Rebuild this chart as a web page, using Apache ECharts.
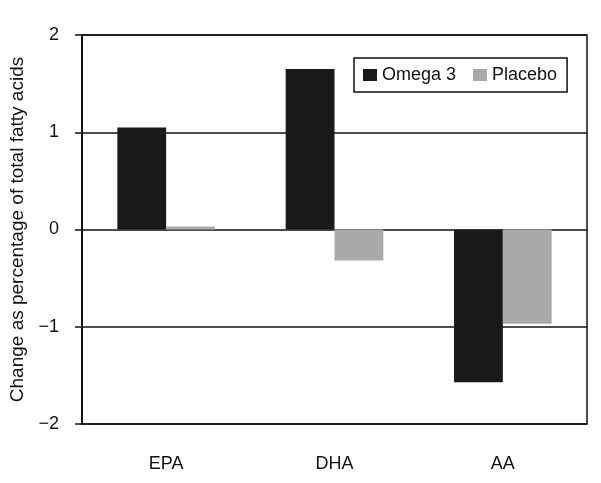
<!DOCTYPE html>
<html><head><meta charset="utf-8">
<script src="https://cdn.jsdelivr.net/npm/echarts@6/dist/echarts.min.js"></script>
<style>html,body{margin:0;padding:0;background:#fff}#c{width:601px;height:483px}</style>
</head><body><div id="c"></div>
<script>
const categories = ['EPA', 'DHA', 'AA'];
const omega3 = [1.05, 1.65, -1.57];
const placebo = [0.03, -0.32, -0.97];
const yTicks = [-2, -1, 0, 1, 2];

const FONT = 'Liberation Sans, Arial, sans-serif';
const chart = echarts.init(document.getElementById('c'));
chart.setOption({
  animation: false,
  backgroundColor: '#fff',
  textStyle: { fontFamily: FONT },
  grid: { left: 82, right: 14, top: 35, bottom: 59, show: true, borderColor: '#111', borderWidth: 1.5, backgroundColor: 'transparent' },
  legend: {
    left: 354, top: 58, orient: 'horizontal',
    borderColor: '#111', borderWidth: 1.5, padding: [8, 10, 8, 9],
    itemWidth: 14, itemHeight: 12, itemGap: 17, icon: 'rect',
    textStyle: { fontSize: 18, color: '#111', fontFamily: FONT },
    data: ['Omega 3', 'Placebo']
  },
  xAxis: {
    type: 'category', data: categories,
    axisLine: { show: false, onZero: false }, axisTick: { show: false },
    axisLabel: { fontSize: 18, color: '#111', margin: 31 }
  },
  yAxis: {
    type: 'value', min: -2, max: 2, interval: 1,
    name: 'Change as percentage of total fatty acids', nameLocation: 'middle', nameGap: 55,
    nameTextStyle: { fontSize: 19, color: '#111' },
    axisLine: { show: true, lineStyle: { color: '#111', width: 2 } },
    axisTick: { show: true, length: 7, lineStyle: { color: '#111', width: 1.5 } },
    axisLabel: { fontSize: 18, color: '#111', margin: 23, formatter: v => (v < 0 ? '\u2212' + Math.abs(v) : String(v)) },
    splitLine: { show: true, lineStyle: { color: '#111', width: 1.5 } }
  },
  series: [
    { name: 'Omega 3', type: 'bar', data: omega3, barGap: '0%', barCategoryGap: '42%', itemStyle: { color: '#1a1a1a' } },
    { name: 'Placebo', type: 'bar', data: placebo, itemStyle: { color: '#a9a9a9' } }
  ]
});
</script></body></html>
